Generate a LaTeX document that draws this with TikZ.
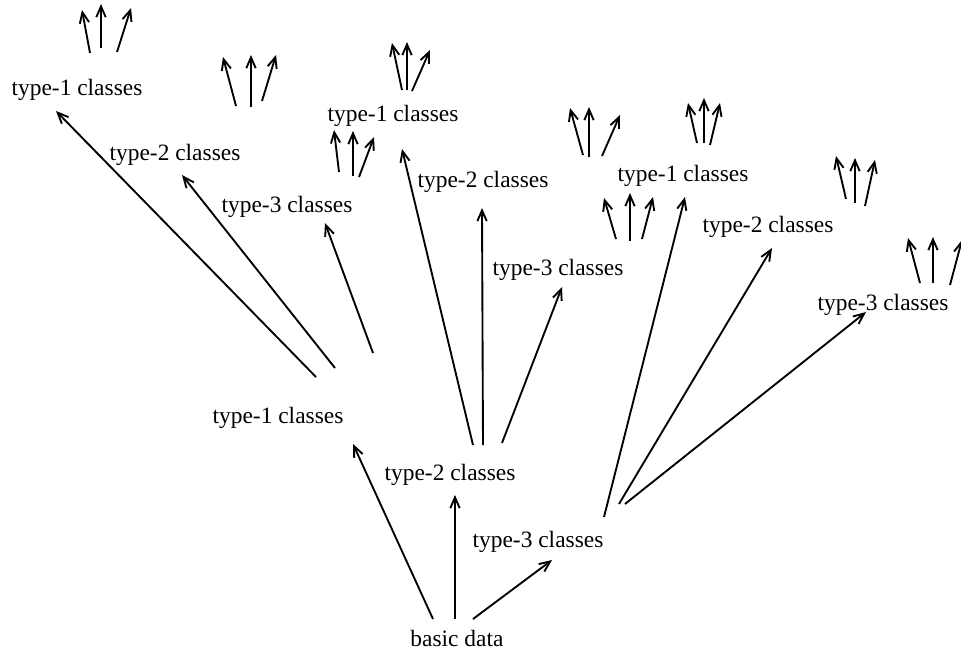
\documentclass[tikz,border=0pt]{standalone}
\usepackage{fontspec}
\setmainfont{Liberation Serif}
\usetikzlibrary{arrows.meta, calc}

\tikzset{
  cls/.style={inner sep=0pt, font=\fontsize{10}{12}\selectfont},
  arr/.style={line width=0.8pt, -{Straight Barb[length=4.6pt,width=4pt]}}
}

\begin{document}
\begin{tikzpicture}[x=0.015cm, y=-0.015cm]
        \useasboundingbox (0,0) rectangle (961,652);

        % root and first level
        \node[cls] (basic) at (457,638) {basic data};
        \node[cls] (t1) at (278,418) {type-1 classes};
        \node[cls] (t2) at (450,475) {type-2 classes};
        \node[cls] (t3) at (538,542) {type-3 classes};

        % second level
        \node[cls] (t11) at (77,90)   {type-1 classes};
        \node[cls] (t12) at (175,155) {type-2 classes};
        \node[cls] (t13) at (287,207) {type-3 classes};
        \node[cls] (t21) at (393,116) {type-1 classes};
        \node[cls] (t22) at (483,182) {type-2 classes};
        \node[cls] (t23) at (558,270) {type-3 classes};
        \node[cls] (t31) at (683,176) {type-1 classes};
        \node[cls] (t32) at (768,227) {type-2 classes};
        \node[cls] (t33) at (883,305) {type-3 classes};

        \draw[arr] ($(basic)+(-24,-19)$) -- ($(t1)+(75,26)$);
        \draw[arr] ($(basic)+(-2,-19)$)  -- ($(t2)+(5,20)$);
        \draw[arr] ($(basic)+(16,-19)$)  -- ($(t3)+(14,18)$);

        \draw[arr] ($(t1)+(38,-41)$) -- ($(t11)+(-21,21)$);
        \draw[arr] ($(t1)+(57,-50)$) -- ($(t12)+(7,20)$);
        \draw[arr] ($(t1)+(95,-65)$) -- ($(t13)+(38,16)$);

        \draw[arr] ($(t2)+(23,-30)$) -- ($(t21)+(9,33)$);
        \draw[arr] ($(t2)+(33,-30)$) -- ($(t22)+(-1,26)$);
        \draw[arr] ($(t2)+(52,-32)$) -- ($(t23)+(4,17)$);

        \draw[arr] ($(t3)+(66,-25)$) -- ($(t31)+(2,21)$);
        \draw[arr] ($(t3)+(81,-38)$) -- ($(t32)+(4,21)$);
        \draw[arr] ($(t3)+(87,-38)$) -- ($(t33)+(-17,7)$);

        % third level, only the arrows
        \foreach \sx/\sy/\ex/\ey in {13/-37/5/-80, 24/-42/24/-86, 40/-38/54/-82}
          \draw[arr] ($(t11)+(\sx,\sy)$) -- ($(t11)+(\ex,\ey)$);
        \foreach \sx/\sy/\ex/\ey in {61/-49/48/-98, 76/-48/76/-100, 87/-54/101/-100}
          \draw[arr] ($(t12)+(\sx,\sy)$) -- ($(t12)+(\ex,\ey)$);
        \foreach \sx/\sy/\ex/\ey in {52/-35/47/-77, 66/-31/66/-76, 72/-30/87/-70}
          \draw[arr] ($(t13)+(\sx,\sy)$) -- ($(t13)+(\ex,\ey)$);
        \foreach \sx/\sy/\ex/\ey in {9/-26/-1/-73, 14/-26/14/-74, 19/-25/37/-66}
          \draw[arr] ($(t21)+(\sx,\sy)$) -- ($(t21)+(\ex,\ey)$);
        \foreach \sx/\sy/\ex/\ey in {100/-27/87/-74, 106/-25/106/-75, 119/-26/137/-67}
          \draw[arr] ($(t22)+(\sx,\sy)$) -- ($(t22)+(\ex,\ey)$);
        \foreach \sx/\sy/\ex/\ey in {58/-31/46/-72, 72/-29/72/-77, 84/-31/95/-73}
          \draw[arr] ($(t23)+(\sx,\sy)$) -- ($(t23)+(\ex,\ey)$);
        \foreach \sx/\sy/\ex/\ey in {14/-33/5/-73, 21/-33/21/-78, 27/-31/37/-73}
          \draw[arr] ($(t31)+(\sx,\sy)$) -- ($(t31)+(\ex,\ey)$);
        \foreach \sx/\sy/\ex/\ey in {78/-28/68/-71, 87/-24/87/-69, 97/-21/107/-67}
          \draw[arr] ($(t32)+(\sx,\sy)$) -- ($(t32)+(\ex,\ey)$);
        \foreach \sx/\sy/\ex/\ey in {37/-22/25/-67, 50/-22/50/-68, 67/-20/79/-65}
          \draw[arr] ($(t33)+(\sx,\sy)$) -- ($(t33)+(\ex,\ey)$);
    \end{tikzpicture}
\end{document}
